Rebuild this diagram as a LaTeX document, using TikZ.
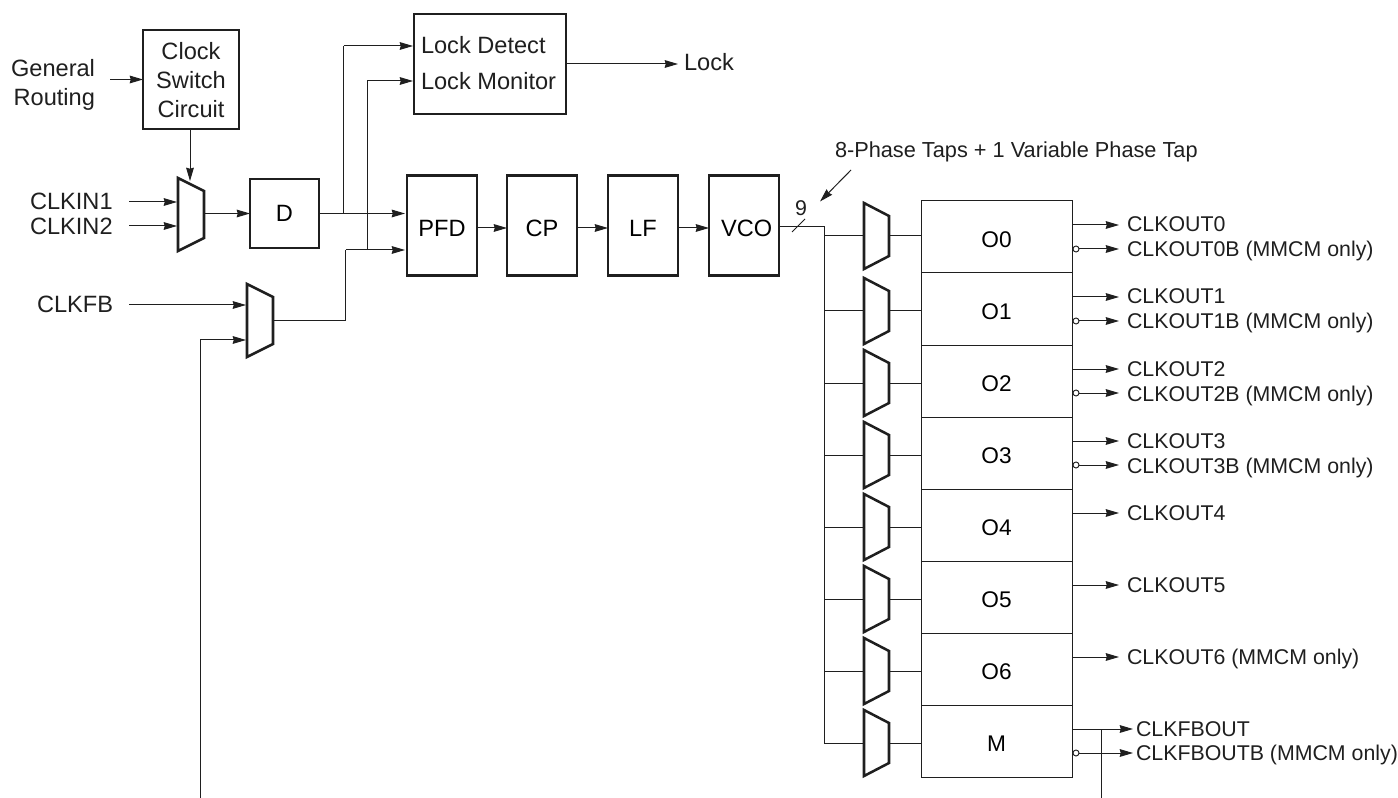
\documentclass[tikz,border=0pt]{standalone}
\usepackage{fontspec}
\setmainfont{Liberation Sans}
\usetikzlibrary{arrows.meta}
\def\pxu{0.75pt}
\definecolor{ink}{HTML}{1F1F1F}
\newcommand{\dn}[1]{\raisebox{-2pt}[\height][0pt]{#1}}
\tikzset{
  x=\pxu,y=-\pxu,
  wire/.style={draw=ink,line width=0.75pt},
  arr/.style={wire,-{Stealth[length=10pt,width=5.8pt,inset=0.8pt]}},
  blockbox/.style={draw=ink,line width=1.9pt,outer sep=0pt,inner sep=0pt,align=center,font=\fontsize{17.7}{21.75}\selectfont},
  thinbox/.style={draw=ink,line width=0.75pt,outer sep=0pt,inner sep=0pt,font=\fontsize{17}{20}\selectfont,minimum width=151*\pxu,minimum height=72*\pxu},
  muxin/.style={inner sep=0pt,outer sep=0pt,minimum width=26*\pxu,minimum height=73*\pxu},
  muxout/.style={inner sep=0pt,outer sep=0pt,minimum width=25*\pxu,minimum height=66*\pxu},
  muxline/.style={draw=ink,line width=1.9pt,line join=miter},
  lab/.style={inner sep=0pt,outer sep=0pt,font=\fontsize{17.7}{20}\selectfont,text=ink},
  slab/.style={inner sep=0pt,outer sep=0pt,font=\fontsize{16}{18}\selectfont,text=ink},
  bubble/.style={circle,draw=ink,fill=white,line width=0.7pt,minimum size=6*\pxu,inner sep=0pt,outer sep=0pt},
}
\newcommand{\muxdraw}[1]{%
  \draw[muxline] (#1.north west) -- ([yshift=-13*\pxu]#1.north east) -- ([yshift=13*\pxu]#1.south east) -- (#1.south west) -- cycle;}
\begin{document}
\begin{tikzpicture}
\useasboundingbox (0,0) rectangle (1398,798);

% blocks
\node[blockbox,minimum width=96*\pxu,minimum height=99*\pxu] (clk) at (191,79.5) {};
\node[lab,anchor=base] (clk1) at (191,60) {Clock};
\node[lab,anchor=base] (clk2) at (191,88.5) {Switch};
\node[lab,anchor=base] (clk3) at (191,117.5) {Circuit};
\node[blockbox,minimum width=152*\pxu,minimum height=100*\pxu] (lock) at (490,64) {};
\node[lab,anchor=base west] (lockd) at (421,53.5) {Lock Detect};
\node[lab,anchor=base west] (lockm) at (421,89.5) {Lock Monitor};
\node[blockbox,minimum width=69*\pxu,minimum height=69*\pxu] (d) at (284.5,213.5) {D};
\node[blockbox,minimum width=70*\pxu,minimum height=100*\pxu] (pfd) at (442,225.5) {\dn{PFD}};
\node[blockbox,minimum width=70*\pxu,minimum height=100*\pxu] (cp) at (542,225.5) {\dn{CP}};
\node[blockbox,minimum width=70*\pxu,minimum height=100*\pxu] (lf) at (643,225.5) {\dn{LF}};
\node[blockbox,minimum width=70*\pxu,minimum height=100*\pxu] (vco) at (744,225.5) {\hspace*{4pt}\dn{VCO}};

% output blocks
\node[thinbox] (o0) at (996.5,237) {\dn{O0}};
\node[thinbox] (o1) at (996.5,309) {\dn{O1}};
\node[thinbox] (o2) at (996.5,381) {\dn{O2}};
\node[thinbox] (o3) at (996.5,453) {\dn{O3}};
\node[thinbox] (o4) at (996.5,525) {\dn{O4}};
\node[thinbox] (o5) at (996.5,597) {\dn{O5}};
\node[thinbox] (o6) at (996.5,669) {\dn{O6}};
\node[thinbox] (om) at (996.5,741) {\dn{M}};

% muxes
\node[muxin] (m1) at (191,214.5) {};
\node[muxin] (m2) at (260,320.5) {};
\node[muxout] (x0) at (876.5,236) {};
\node[muxout] (x1) at (876.5,311) {};
\node[muxout] (x2) at (876.5,383) {};
\node[muxout] (x3) at (876.5,455) {};
\node[muxout] (x4) at (876.5,527) {};
\node[muxout] (x5) at (876.5,599) {};
\node[muxout] (x6) at (876.5,671) {};
\node[muxout] (xm) at (876.5,743) {};
\muxdraw{m1}\muxdraw{m2}\muxdraw{x0}\muxdraw{x1}\muxdraw{x2}\muxdraw{x3}\muxdraw{x4}\muxdraw{x5}\muxdraw{x6}\muxdraw{xm}

% left labels
\node[lab,anchor=base east] (gen) at (95,76.5) {General};
\node[lab,anchor=base east] (rout) at (95,106) {Routing};
\node[lab,anchor=base west] (in1) at (30,210) {CLKIN1};
\node[lab,anchor=base west] (in2) at (30,235) {CLKIN2};
\node[lab,anchor=base west] (fb) at (37,312.5) {CLKFB};
\node[lab,anchor=base west] (lk) at (684,71) {Lock};

% free ends
\coordinate (genS) at (110,79.5);
\coordinate (in1S) at (129,202);
\coordinate (in2S) at (129,226);
\coordinate (fbS) at (129,305);
\coordinate (lkE) at (678,64);
\coordinate (fbin) at (200.7,798);
\coordinate (fbout) at (1101.7,798);
\coordinate (bus) at (824.7,227);

% left wires
\draw[arr] (genS) -- (clk.west);
\draw[arr] (clk.south -| 190,0) -- (190,181);
\draw[arr] (in1S) -- (177,202);
\draw[arr] (in2S) -- (177,226);
\draw[arr] (fbS) -- (246,305);
\draw[arr] (fbin) -- (200.7,340) -- (246,340);
\draw[arr] (204,213.5) -- (d.west);
\draw[arr] (d.east) -- (405,213.5);
\draw[wire] (343.7,213.5) -- (343.7,46);
\draw[arr] (343.7,46) -- (413,46);
\draw[wire] (273,321) -- (345.7,321) -- (345.7,250);
\draw[arr] (345.7,250) -- (405,250);
\draw[wire] (367.3,250) -- (367.3,81);
\draw[arr] (367.3,81) -- (413,81);
\draw[arr] (lock.east) -- (lkE);

% chain
\draw[arr] (pfd.east |- 0,228) -- (cp.west |- 0,228);
\draw[arr] (cp.east |- 0,228) -- (lf.west |- 0,228);
\draw[arr] (lf.east |- 0,228) -- (vco.west |- 0,228);

% VCO bus
\draw[wire] (vco.east |- bus) -- (bus) -- (824.7,743) -- (xm.west);
\draw[wire] (792,232) -- (805,219);
\node[slab] (nine) at (801,208) {9};
\node[slab,anchor=base west] (tap) at (835,158) {\fontsize{16.3}{18}\selectfont 8-Phase Taps + 1 Variable Phase Tap};
\coordinate (tapS) at (851,170);
\draw[arr] (tapS) -- (820,201.5);

% taps
\foreach \m/\o in {x0/o0,x1/o1,x2/o2,x3/o3,x4/o4,x5/o5,x6/o6,xm/om}{
  \draw[wire] (\m.east) -- (\m.east -| \o.west);
}
\foreach \m in {x0,x1,x2,x3,x4,x5,x6}{
  \draw[wire] (\m.west -| bus) -- (\m.west);
}

% outputs
\foreach \y/\t in {225/CLKOUT0,297/CLKOUT1,369/CLKOUT2,441/CLKOUT3,513/CLKOUT4,585/CLKOUT5,657/CLKOUT6 (MMCM only)}{
  \draw[arr] (1072,\y) -- (1119,\y);
  \node[slab,anchor=base west] at (1127,\y+7) {\t};
}
\foreach \y/\t in {249/CLKOUT0B (MMCM only),321/CLKOUT1B (MMCM only),393/CLKOUT2B (MMCM only),465/CLKOUT3B (MMCM only)}{
  \draw[arr] (1076,\y) -- (1119,\y);
  \node[bubble] at (1076,\y) {};
  \node[slab,anchor=base west] at (1127,\y+8) {\t};
}
\draw[arr] (1072,729) -- (1133,729);
\draw[arr] (1076,753) -- (1133,753);
\node[bubble] (bm) at (1076,753) {};
\node[slab,anchor=base west] (cf) at (1136,736.5) {CLKFBOUT};
\node[slab,anchor=base west] (cfb) at (1136,760.5) {CLKFBOUTB (MMCM only)};
\draw[wire] (1101.7,729) -- (fbout);
\end{tikzpicture}
\end{document}
